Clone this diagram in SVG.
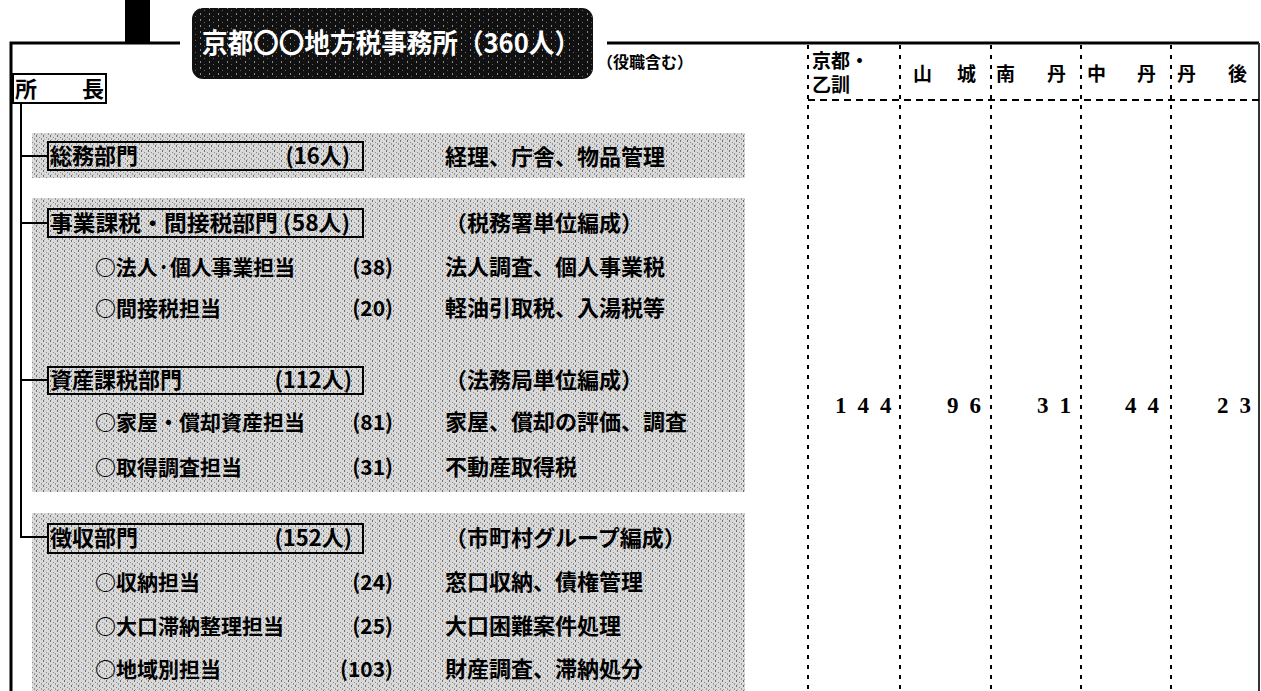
<svg xmlns="http://www.w3.org/2000/svg" width="1261" height="691" viewBox="0 0 1261 691">
<defs>
<pattern id="ht" width="7" height="5" patternUnits="userSpaceOnUse">
<rect width="7" height="5" fill="#d9d9d9"/>
<rect x="1" y="0" width="1" height="2" fill="#6e6e6e"/>
<rect x="4" y="2" width="1" height="1" fill="#888"/>
<rect x="6" y="3" width="1" height="2" fill="#999"/>
<rect x="2" y="4" width="1" height="1" fill="#aaa"/>
</pattern>
<pattern id="dk" width="9" height="6" patternUnits="userSpaceOnUse">
<rect width="9" height="6" fill="#111"/>
<rect x="2" y="1" width="1" height="2" fill="#888"/>
<rect x="6" y="4" width="1" height="1" fill="#666"/>
</pattern>
<style>
.t{font-family:"Noto Sans CJK JP","Noto Sans CJK SC",sans-serif;font-weight:bold;fill:#000;}
.b{font-size:22px;}
.s{font-size:21px;}
.h{font-size:19px;}
.n{font-family:"Liberation Serif",serif;font-weight:bold;font-size:23px;letter-spacing:11px;fill:#000;}
.box{fill:none;stroke:#000;stroke-width:2;}
.ln{stroke:#000;fill:none;}
.dv{stroke:#000;stroke-width:2;stroke-dasharray:4 6;fill:none;}
.dh{stroke:#000;stroke-width:2;stroke-dasharray:7 5;fill:none;}
</style>
</defs>
<rect width="1261" height="691" fill="#fff"/>

<g id="frame">
<rect x="125" y="0" width="25" height="43" fill="#000"/>
<path class="ln" stroke-width="3" d="M11 691 V43 H180"/>
<path class="ln" stroke-width="3" d="M607 43 H1259"/>
<path stroke="#333" stroke-width="2" d="M1259 43 V691"/>
</g>

<g id="shades">
<rect x="32" y="133" width="713" height="45" fill="url(#ht)"/>
<rect x="32" y="198" width="713" height="294" fill="url(#ht)"/>
<rect x="32" y="513" width="713" height="178" fill="url(#ht)"/>
</g>

<g id="title">
<rect x="192" y="8" width="401" height="71" rx="11" fill="url(#dk)"/>
<text class="t" x="202" y="53" font-size="27" style="fill:#fff" textLength="378" lengthAdjust="spacingAndGlyphs">京都〇〇地方税事務所（360人）</text>
<text class="t" x="597" y="68" font-size="16" textLength="96" lengthAdjust="spacingAndGlyphs">（役職含む）</text>
</g>

<g id="connectors">
<path class="ln" stroke-width="2" d="M21 103 V537 H48"/>
<path class="ln" stroke-width="2" d="M21 156 H48 M21 223 H48 M21 380 H48"/>
</g>

<g id="chief">
<rect class="box" x="13" y="74" width="93" height="29"/>
<text class="t b" x="15" y="97">所</text>
<text class="t b" x="82" y="97">長</text>
</g>

<g id="soumu">
<rect class="box" x="48" y="142" width="315" height="28"/>
<text class="t b" x="50" y="164">総務部門</text>
<text class="t b" x="350" y="164" text-anchor="end">(16人)</text>
<text class="t b" x="445" y="165">経理、庁舎、物品管理</text>
</g>

<g id="jigyou">
<rect class="box" x="48" y="209" width="315" height="28"/>
<text class="t b" x="50" y="231" textLength="300" lengthAdjust="spacingAndGlyphs">事業課税・間接税部門 (58人)</text>
<text class="t b" x="445" y="231">（税務署単位編成）</text>
<text class="t s" x="95" y="275" textLength="200" lengthAdjust="spacingAndGlyphs">○法人·個人事業担当</text>
<text class="t s" x="393" y="275" text-anchor="end">(38)</text>
<text class="t b" x="445" y="275">法人調査、個人事業税</text>
<text class="t s" x="95" y="316">○間接税担当</text>
<text class="t s" x="393" y="316" text-anchor="end">(20)</text>
<text class="t b" x="445" y="316">軽油引取税、入湯税等</text>
</g>

<g id="shisan">
<rect class="box" x="48" y="367" width="315" height="27"/>
<text class="t b" x="50" y="388">資産課税部門</text>
<text class="t b" x="352" y="388" text-anchor="end">(112人)</text>
<text class="t b" x="445" y="388">（法務局単位編成）</text>
<text class="t s" x="95" y="430">○家屋・償却資産担当</text>
<text class="t s" x="393" y="430" text-anchor="end">(81)</text>
<text class="t b" x="445" y="430">家屋、償却の評価、調査</text>
<text class="t s" x="95" y="475">○取得調査担当</text>
<text class="t s" x="393" y="475" text-anchor="end">(31)</text>
<text class="t b" x="445" y="475">不動産取得税</text>
</g>

<g id="choushu">
<rect class="box" x="48" y="524" width="315" height="29"/>
<text class="t b" x="50" y="546">徴収部門</text>
<text class="t b" x="352" y="546" text-anchor="end">(152人)</text>
<text class="t b" x="445" y="546">（市町村グループ編成）</text>
<text class="t s" x="95" y="590">○収納担当</text>
<text class="t s" x="393" y="590" text-anchor="end">(24)</text>
<text class="t b" x="445" y="590">窓口収納、債権管理</text>
<text class="t s" x="95" y="634">○大口滞納整理担当</text>
<text class="t s" x="393" y="634" text-anchor="end">(25)</text>
<text class="t b" x="445" y="634">大口困難案件処理</text>
<text class="t s" x="95" y="677">○地域別担当</text>
<text class="t s" x="393" y="677" text-anchor="end">(103)</text>
<text class="t b" x="445" y="677">財産調査、滞納処分</text>
</g>

<g id="table">
<path class="dh" d="M808 100 H1259"/>
<path class="dv" d="M808 45 V691 M900 45 V691 M991 45 V691 M1081 45 V691 M1171 45 V691"/>
<text class="t h" x="812" y="68">京都・<tspan x="812" dy="24">乙訓</tspan></text>
<text class="t h" x="913" y="81">山</text>
<text class="t h" x="957" y="81">城</text>
<text class="t h" x="996" y="81">南</text>
<text class="t h" x="1047" y="81">丹</text>
<text class="t h" x="1087" y="81">中</text>
<text class="t h" x="1137" y="81">丹</text>
<text class="t h" x="1177" y="81">丹</text>
<text class="t h" x="1228" y="81">後</text>
<text class="n" x="835" y="413">144</text>
<text class="n" x="947" y="413">96</text>
<text class="n" x="1037" y="413">31</text>
<text class="n" x="1125" y="413">44</text>
<text class="n" x="1217" y="413">23</text>
</g>
</svg>
